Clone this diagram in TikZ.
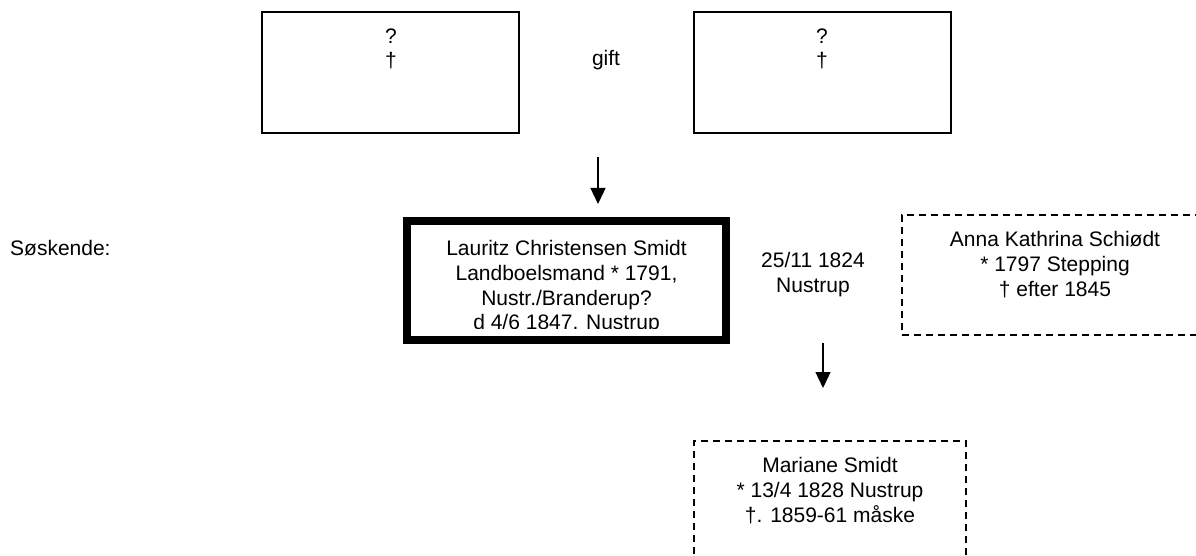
\documentclass[tikz,border=0pt]{standalone}
\usepackage{fontspec}
\setmainfont{Liberation Sans}
\usetikzlibrary{arrows.meta}
\begin{document}
\begin{tikzpicture}[x=1pt,y=-1pt,
  txt/.style={inner sep=0pt, align=center, font=\fontsize{21}{24.6}\selectfont, anchor=north},
  plain/.style={inner sep=0pt, font=\fontsize{21}{24.6}\selectfont},
  solidbox/.style={draw, line width=1.4pt, outer sep=0pt, inner sep=0pt, anchor=north west},
  heavybox/.style={draw, line width=8pt, outer sep=0pt, inner sep=0pt, anchor=north west},
  dashbox/.style={draw, line width=1.8pt, dash pattern=on 7pt off 5pt, outer sep=0pt, inner sep=0pt, anchor=north west},
  descent/.style={line width=1.3pt, -{Triangle[length=16pt,width=15pt]}}
]
\useasboundingbox (0,0) rectangle (1196,556);
\fill[white] (0,0) rectangle (1196,556);

% parents
\node[solidbox, minimum width=257pt, minimum height=121pt] (far) at (262,12) {};
\node[txt] (fartxt) at (391,28.5) {?\\†};
\node[solidbox, minimum width=257pt, minimum height=121pt] (mor) at (694,12) {};
\node[txt] (mortxt) at (822,28.5) {?\\†};
\node[plain] (gift) at (606,60) {gift};

% main person
\begin{scope}
  \clip (411,225) rectangle (722,328);
  \node[txt] (lauritztxt) at (566.5,240.5) {Lauritz Christensen Smidt\\Landboelsmand * 1791,\\Nustr./Branderup?\\d 4/6 1847. Nustrup};
\end{scope}
\node[heavybox, minimum width=319pt, minimum height=119pt] (lauritz) at (407,221) {};

\node[plain, anchor=west] (soskende) at (10,248) {Søskende:};
\node[txt] (vielse) at (813,252.5) {25/11 1824\\Nustrup};

% spouse
\node[dashbox, minimum width=306pt, minimum height=120pt] (anna) at (902,215) {};
\node[txt] (annatxt) at (1055,231.5) {Anna Kathrina Schiødt\\* 1797 Stepping\\† efter 1845};

% child
\node[dashbox, minimum width=272pt, minimum height=130pt] (mariane) at (694,441) {};
\node[txt] (marianetxt) at (830,457.5) {Mariane Smidt\\* 13/4 1828 Nustrup\\†. 1859-61 måske};

% arrows
\coordinate (a1s) at (598,157);
\coordinate (a1e) at (598,204);
\coordinate (a2s) at (823,343);
\coordinate (a2e) at (823,388);
\draw[descent] (a1s) -- (a1e);
\draw[descent] (a2s) -- (a2e);
\end{tikzpicture}
\end{document}
